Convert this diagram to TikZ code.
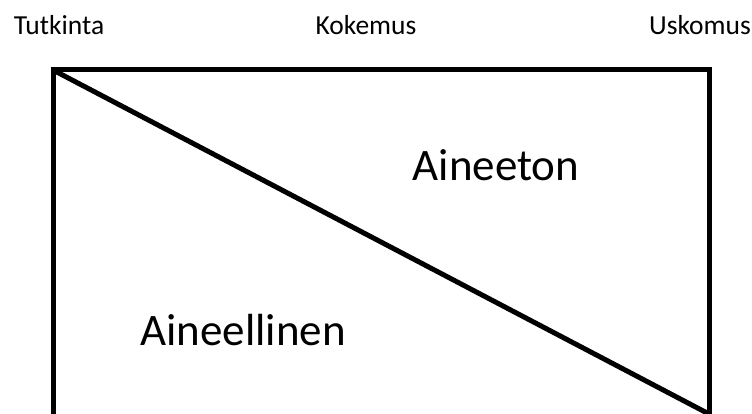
\documentclass[tikz,border=0pt]{standalone}
\usepackage{fontspec}
\setmainfont{Carlito}
\begin{document}
\begin{tikzpicture}[x=1pt,y=-1pt,
  small/.style={font=\fontsize{27.5}{30}\selectfont, inner sep=0pt},
  big/.style={font=\fontsize{45}{50}\selectfont, inner sep=0pt},
  edge/.style={line width=5pt, line cap=rect}]
\useasboundingbox (0,0) rectangle (752,414);
\coordinate (tl) at (53,70);
\coordinate (tr) at (709,70);
\coordinate (bl) at (53,420);
\coordinate (br) at (709,420);
\coordinate (diagend) at (709,414);
\draw[edge, line join=miter] (bl) -- (tl) -- (tr) -- (br);
\draw[edge, line cap=butt] (tl) -- (diagend);
\node[small, anchor=base] (tut) at (59,35) {Tutkinta};
\node[small, anchor=base] (kok) at (366,35) {Kokemus};
\node[small, anchor=base east] (usk) at (751,35) {Uskomus};
\node[big] (aineeton) at (496,165) {Aineeton};
\node[big] (aineellinen) at (243,330) {Aineellinen};
\end{tikzpicture}
\end{document}
